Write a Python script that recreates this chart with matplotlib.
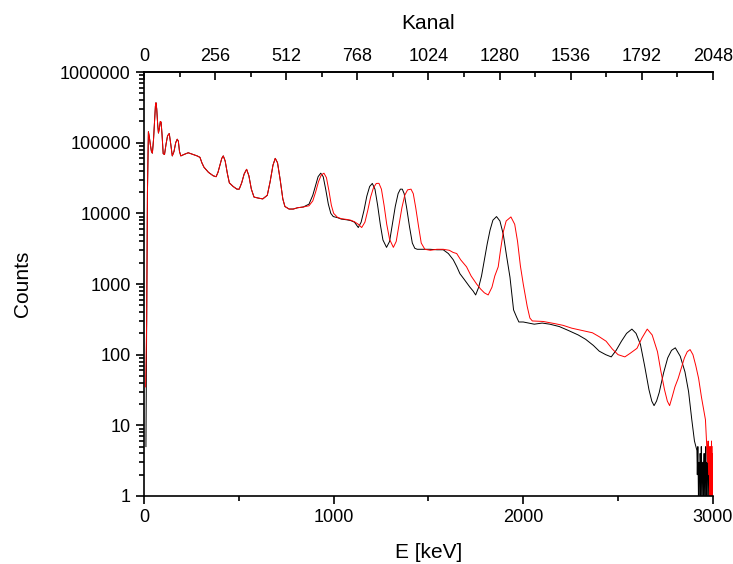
import numpy as np
import matplotlib
matplotlib.use("Agg")
import matplotlib.pyplot as plt
from matplotlib.ticker import FixedLocator, NullFormatter, FuncFormatter

plt.rcParams['font.family'] = ['Liberation Sans', 'DejaVu Sans']

# gemeinsamer Teil beider Spektren (unter ~790 keV deckungsgleich)
e_low = [14, 18, 23, 28, 33, 39, 44, 50, 56, 60, 63, 67, 72, 76, 81, 86, 90, 95,
         101, 108, 116, 124, 133, 141, 149, 158, 167, 175, 181, 187, 194, 210,
         233, 260, 280, 295, 305, 316, 340, 365, 380, 390, 400, 410, 418, 428,
         440, 450, 470, 490, 502, 515, 528, 541, 553, 566, 580, 600, 626, 650,
         665, 680, 692, 704, 718, 732, 743, 765]
c_low = [300, 20000, 143000, 120000, 95000, 75000, 71000, 110000, 220000, 330000,
         367000, 300000, 180000, 137000, 160000, 200000, 195000, 130000, 70000,
         68000, 95000, 125000, 135000, 95000, 65000, 75000, 100000, 112000, 105000,
         75000, 65000, 68000, 72000, 68000, 65000, 62000, 52000, 45000, 38000,
         34000, 33000, 38000, 48000, 60000, 65000, 55000, 36000, 27000, 24000,
         22000, 22000, 27000, 36000, 42000, 34000, 22000, 17000, 16500, 16000,
         18000, 28000, 48000, 60000, 52000, 30000, 16000, 12500, 11500]

# schwarzes Spektrum (Kalibrierung 1)
e_black_start = [10]
c_black_start = [5]
e_black = [787, 810, 840, 870, 890, 905, 918, 932, 945, 958, 972, 985, 998, 1020,
           1040, 1069, 1090, 1110, 1130, 1145, 1160, 1175, 1190, 1204, 1218, 1232,
           1246, 1260, 1279, 1295, 1310, 1325, 1340, 1352, 1362, 1372, 1385, 1400,
           1415, 1428, 1441, 1470, 1508, 1545, 1578, 1605, 1631, 1650, 1666, 1690,
           1719, 1735, 1749, 1765, 1780, 1795, 1810, 1825, 1840, 1859, 1877, 1895,
           1912, 1930, 1949, 1965, 1977, 2000, 2058, 2100, 2140, 2190, 2238, 2290,
           2329, 2370, 2401, 2435, 2464, 2490, 2518, 2545, 2573, 2595, 2618, 2640,
           2663, 2678, 2690, 2703, 2717, 2740, 2762, 2782, 2802, 2828, 2853, 2872,
           2889, 2903, 2916, 2918, 2921, 2924, 2927, 2930, 2933, 2936, 2939, 2942,
           2945, 2948, 2951, 2954, 2957, 2960, 2963, 2966, 2969, 2972, 2975, 2978,
           2981, 2984, 2987, 2990, 2993]
c_black = [11500, 12000, 12300, 13500, 18000, 25000, 33000, 37000, 33000, 22000,
           13500, 10000, 9000, 8700, 8300, 8100, 7900, 7500, 6300, 7500, 11000,
           17500, 24000, 26500, 22000, 13000, 7000, 4200, 3300, 4000, 7000, 12500,
           19000, 22000, 22000, 19000, 12000, 6500, 3800, 3200, 3100, 3100, 3100,
           3050, 3050, 2700, 2200, 1750, 1400, 1150, 900, 800, 700, 900, 1300, 2200,
           3700, 5800, 8000, 9000, 7800, 5000, 2500, 1250, 430, 340, 290, 290, 270,
           280, 270, 250, 220, 190, 165, 135, 112, 100, 93, 115, 155, 200, 230, 200,
           140, 70, 32, 22, 19, 22, 29, 55, 90, 115, 125, 95, 57, 30, 12, 6, 4.4,
           2, 5, 1, 3, 0, 4, 1, 5, 2, 0, 3, 1, 4, 0, 2, 5, 1, 3, 0, 2, 4, 1, 0, 3,
           1, 0]

# rotes Spektrum (Kalibrierung 2)
e_red_start = [8]
c_red_start = [35]
e_red = [787, 810, 840, 870, 890, 905, 920, 935, 949, 962, 975, 988, 1000, 1020,
         1040, 1069, 1090, 1110, 1130, 1148, 1165, 1180, 1195, 1210, 1225, 1239,
         1252, 1266, 1280, 1295, 1315, 1330, 1345, 1360, 1375, 1390, 1408, 1420,
         1433, 1448, 1462, 1481, 1510, 1545, 1578, 1610, 1630, 1649, 1670, 1701,
         1725, 1754, 1775, 1795, 1815, 1835, 1850, 1868, 1880, 1895, 1910, 1935,
         1955, 1970, 1985, 2000, 2021, 2035, 2048, 2105, 2166, 2210, 2256, 2310,
         2365, 2400, 2437, 2470, 2500, 2536, 2565, 2600, 2625, 2654, 2680, 2708,
         2725, 2745, 2760, 2772, 2785, 2800, 2817, 2850, 2865, 2880, 2895, 2910,
         2925, 2940, 2961, 2968, 2972, 2975, 2978, 2981, 2983, 2985, 2987, 2989,
         2991, 2993, 2995, 2997, 2999, 3000]
c_red = [11500, 12000, 12300, 12800, 15000, 20000, 28000, 35000, 37000, 32000,
         21000, 13000, 10000, 8800, 8400, 8200, 8000, 7600, 7000, 6300, 7500,
         11000, 17000, 23000, 26500, 26600, 22000, 13000, 7000, 4300, 3300, 4000,
         7000, 12000, 18000, 21500, 22000, 19000, 12000, 6500, 3800, 3100, 3000,
         3100, 3100, 3000, 2800, 2700, 2200, 1750, 1300, 1000, 850, 750, 700, 900,
         1300, 1750, 3000, 5500, 7800, 8900, 7000, 4000, 1800, 1000, 480, 330, 300,
         295, 275, 260, 237, 220, 204, 180, 155, 120, 100, 93, 105, 123, 170, 230,
         190, 110, 60, 32, 22, 19, 25, 35, 46, 90, 110, 118, 100, 70, 46, 25, 12,
         5, 3, 6, 2, 5, 1, 4, 0, 5, 2, 6, 1, 4, 0, 5]

x_ticks = [0, 1000, 2000, 3000]
kanal_ticks = [0, 256, 512, 768, 1024, 1280, 1536, 1792, 2048]
y_ticks = [1, 10, 100, 1000, 10000, 100000, 1000000]

fig = plt.figure(figsize=(7.33, 5.64), dpi=100)
ax = fig.add_axes([0.1965, 0.1206, 0.776, 0.7517])

ax.plot(e_black_start + e_low + e_black, c_black_start + c_low + c_black,
        color='black', lw=0.7)
ax.plot(e_red_start + e_low + e_red, c_red_start + c_low + c_red,
        color='#ff0000', lw=0.7)

ax.set_yscale('log', nonpositive='clip')
ax.set_xlim(0, 3000)
ax.set_ylim(1, 1000000)

ax.xaxis.set_major_locator(FixedLocator(x_ticks))
ax.xaxis.set_minor_locator(FixedLocator([500, 1500, 2500]))
ax.yaxis.set_major_locator(FixedLocator(y_ticks))
ax.yaxis.set_major_formatter(FuncFormatter(lambda v, p: '%d' % v))
ax.yaxis.set_minor_formatter(NullFormatter())

ax.spines['right'].set_visible(False)
for s in ['left', 'bottom', 'top']:
    ax.spines[s].set_linewidth(1.2)
ax.tick_params(which='both', direction='out', width=1.2, labelsize=13, top=False, right=False)
ax.tick_params(which='major', length=6)
ax.tick_params(which='minor', length=3.5)

ax.set_xlabel('E [keV]', fontsize=15, labelpad=12)
ax.set_ylabel('Counts', fontsize=15, labelpad=20)

top = ax.secondary_xaxis('top', functions=(lambda e: e * 2048 / 3000,
                                           lambda k: k * 3000 / 2048))
top.xaxis.set_major_locator(FixedLocator(kanal_ticks))
top.xaxis.set_minor_locator(FixedLocator([k + 128 for k in kanal_ticks[:-1]]))
top.spines['top'].set_linewidth(1.2)
top.tick_params(which='both', direction='in', width=1.2, labelsize=13, pad=5)
top.tick_params(which='major', length=6)
top.tick_params(which='minor', length=3.5)
top.set_xlabel('Kanal', fontsize=15, labelpad=14)

fig.savefig('out.png', dpi=100)
